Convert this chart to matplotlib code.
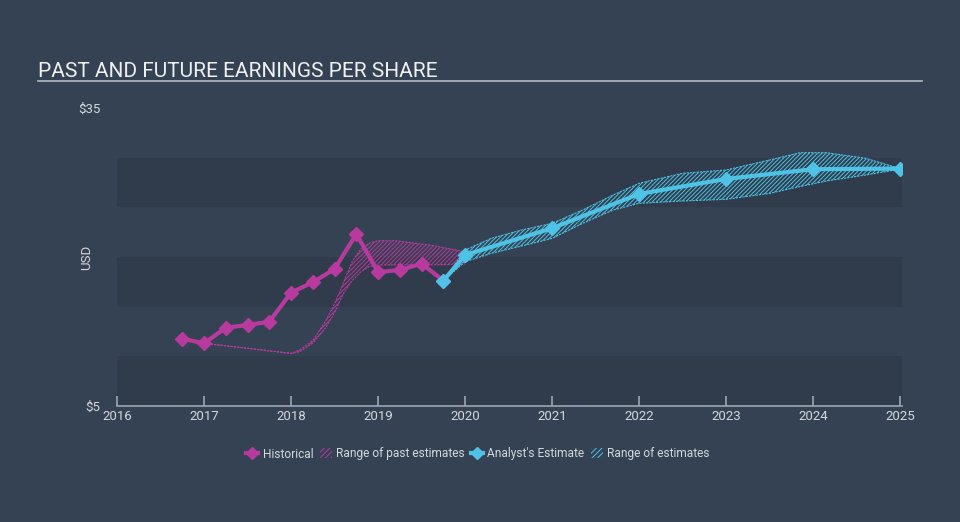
import matplotlib
matplotlib.use('Agg')
import matplotlib.pyplot as plt
from matplotlib.lines import Line2D
from matplotlib.patches import Patch

plt.rcParams['font.family'] = ['Roboto', 'DejaVu Sans']
plt.rcParams['hatch.linewidth'] = 0.7

# Historical EPS (quarterly)
hist_x = [2016.75, 2017.0, 2017.25, 2017.5, 2017.75, 2018.0, 2018.25, 2018.5,
          2018.75, 2019.0, 2019.25, 2019.5, 2019.75]
hist_y = [11.78, 11.31, 12.88, 13.16, 13.49, 16.41, 17.46, 18.79,
          22.32, 18.49, 18.69, 19.33, 17.62]

# Range of past estimates
past_x = [2017.0, 2017.5, 2018.0, 2018.1, 2018.25, 2018.4, 2018.5, 2018.6,
          2018.7, 2018.8, 2018.9, 2019.0, 2019.2, 2019.6, 2020.0]
past_lo = [11.31, 10.81, 10.3, 10.47, 11.34, 12.9, 14.4, 16.3,
           17.6, 18.5, 19.05, 19.18, 19.2, 19.2, 19.3]
past_hi = [11.31, 10.81, 10.3, 10.64, 11.6, 13.6, 15.3, 17.38,
           19.5, 20.8, 21.4, 21.64, 21.64, 21.2, 20.53]

# Analyst estimates (annual)
est_x = [2019.75, 2020.0, 2021.0, 2022.0, 2023.0, 2024.0, 2025.0]
est_y = [17.62, 20.2, 22.9, 26.35, 27.86, 28.84, 28.9]

# Range of estimates
rng_x = [2019.75, 2020.0, 2020.3, 2020.65, 2021.0, 2021.35, 2021.7, 2022.0,
         2022.5, 2023.0, 2023.5, 2023.85, 2024.15, 2024.6, 2025.0]
rng_lo = [17.62, 19.53, 20.37, 21.11, 21.88, 23.39, 24.73, 25.41,
          25.64, 25.81, 26.41, 27.1, 27.65, 28.25, 28.85]
rng_hi = [17.62, 20.7, 21.88, 22.72, 23.39, 24.73, 26.24, 27.42,
          28.43, 28.76, 29.77, 30.5, 30.5, 29.94, 28.9]

years = list(range(2016, 2026))

bg = '#354253'
band = '#303c4b'
pink = '#b83a9e'
cyan = '#4ec3e6'
txt = '#d4d8dd'

fig = plt.figure(figsize=(9.6, 5.22), dpi=100, facecolor=bg)
ax = fig.add_axes([0.1219, 0.2222, 0.8177, 0.5709])
ax.set_facecolor(bg)
ax.set_xlim(2016, 2025.02)
ax.set_ylim(5, 35)

# alternating bands
for lo, hi in [(5, 10), (15, 20), (25, 30)]:
    ax.axhspan(lo, hi, color=band, lw=0, zorder=0)

# past range
ax.fill_between(past_x, past_lo, past_hi, facecolor='none', edgecolor=pink,
                hatch='////////', lw=0, zorder=1)
ax.plot(past_x, past_hi, color=pink, lw=0.8, ls=(0, (2, 1)), zorder=2)
ax.plot(past_x, past_lo, color=pink, lw=0.8, ls=(0, (2, 1)), zorder=2)

# future range
ax.fill_between(rng_x, rng_lo, rng_hi, facecolor='none', edgecolor=cyan,
                hatch='////////', lw=0, zorder=1)
ax.plot(rng_x, rng_hi, color=cyan, lw=0.8, ls=(0, (2, 1)), zorder=2)
ax.plot(rng_x, rng_lo, color=cyan, lw=0.8, ls=(0, (2, 1)), zorder=2)

ax.plot(hist_x, hist_y, color=pink, lw=3, marker='D', ms=7, zorder=3)
ax.plot(est_x, est_y, color=cyan, lw=3, marker='D', ms=7, zorder=4)

for s in ['top', 'right', 'left']:
    ax.spines[s].set_visible(False)
ax.spines['bottom'].set_color('#9aa6b2')
ax.spines['bottom'].set_linewidth(1.2)

ax.set_xticks(years)
ax.set_xticklabels([str(y) for y in years])
ax.tick_params(axis='x', direction='in', length=7, width=1.2, color='#9aa6b2',
               labelcolor=txt, labelsize=9.5, pad=3)
ax.set_yticks([5, 35])
ax.set_yticklabels(['$5', '$35'])
ax.tick_params(axis='y', length=0, labelcolor=txt, labelsize=9.5, pad=12)
ax.set_ylabel('USD', color=txt, fontsize=9.5)
ax.yaxis.set_label_coords(-0.03, 0.5)

# title and underline
fig.text(38 / 960, 1 - 77 / 522, 'PAST AND FUTURE EARNINGS PER SHARE',
         color='#eef0f2', fontsize=15, ha='left', va='baseline')
fig.add_artist(Line2D([38 / 960, 922 / 960], [1 - 81 / 522, 1 - 81 / 522],
                      color='#a9b1ba', lw=1.3))

handles = [
    Line2D([], [], color=pink, lw=3, marker='D', ms=6),
    Patch(facecolor='none', edgecolor=pink, hatch='//////', lw=0),
    Line2D([], [], color=cyan, lw=3, marker='D', ms=6),
    Patch(facecolor='none', edgecolor=cyan, hatch='//////', lw=0),
]
labels = ['Historical', 'Range of past estimates', "Analyst's Estimate",
          'Range of estimates']
leg = fig.legend(handles, labels, loc='center', bbox_to_anchor=(478 / 960, 1 - 454 / 522),
                 ncol=4, frameon=False, fontsize=8.6, labelcolor=txt,
                 handlelength=1.0, handleheight=0.9, handletextpad=0.35,
                 columnspacing=0.55)

fig.savefig('out.png', dpi=100, facecolor=bg)
